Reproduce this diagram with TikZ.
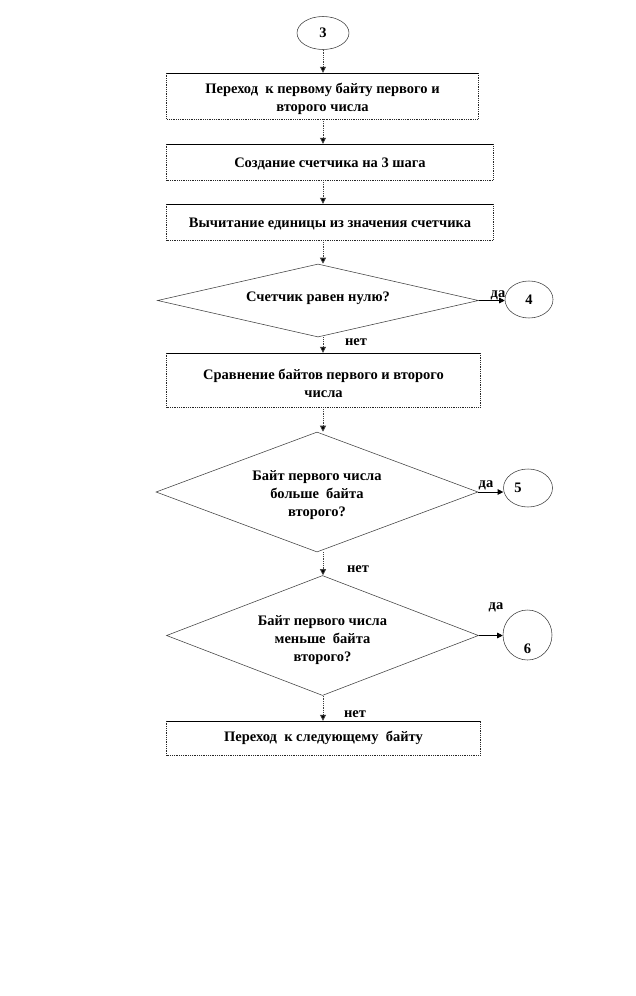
\documentclass[tikz,border=0pt]{standalone}
\usepackage{fontspec}
\setmainfont{Liberation Serif}
\usetikzlibrary{shapes.geometric,arrows.meta}
\newcommand\procedges[1]{%
  \draw[black, line width=0.6pt] (#1.north west) -- (#1.north east);
  \draw[black!85, densely dotted, line width=0.8pt] (#1.north west) -- (#1.south west) -- (#1.south east) -- (#1.north east);}
\begin{document}
\begin{tikzpicture}[x=1pt,y=-1pt,
  txt/.style={font=\fontsize{14.5}{18}\selectfont\bfseries, text=black, align=center, inner sep=0pt},
  proc/.style={rectangle, inner sep=0pt},
  decis/.style={draw=black!75, line width=0.55pt, diamond, inner sep=0pt},
  conn/.style={txt, draw=black!75, line width=0.55pt, ellipse, inner sep=0pt},
  flow/.style={draw=black!75, densely dotted, line width=0.8pt, -{Triangle[length=6pt,width=6pt,fill=black]}},
  flowh/.style={draw=black, line width=0.6pt, -{Triangle[length=5.5pt,width=5.5pt,fill=black]}}]
\useasboundingbox[fill=white] (0,0) rectangle (636,996);
\coordinate (ax) at (323,0);
% start connector
\node[conn, minimum width=52pt, minimum height=33pt] (c3) at (323,33) {3};
% boxes
\node[proc, minimum width=311pt, minimum height=46pt] (b1) at (322.5,96) {};
\procedges{b1}
\node[txt] (b1t) at ([yshift=-3pt]b1.center) {Переход\ \ к первому байту первого и\\второго числа};
\node[proc, minimum width=326pt, minimum height=36pt] (b2) at (330,162) {};
\procedges{b2}
\node[txt] (b2t) at ([yshift=-2pt]b2.center) {Создание счетчика на 3 шага};
\node[proc, minimum width=326pt, minimum height=36pt] (b3) at (330,222) {};
\procedges{b3}
\node[txt] (b3t) at ([yshift=-2pt]b3.center) {Вычитание единицы из значения счетчика};
% decision 1
\node[decis, minimum width=321pt, minimum height=73pt, aspect=4.4] (d1) at (318,300.5) {};
\node[txt] (d1t) at ([yshift=2pt]d1.center) {Счетчик равен нулю?};
\node[conn, minimum width=48pt, minimum height=37pt] (c4) at (529,299.5) {4};
% box 4
\node[proc, minimum width=313pt, minimum height=54pt] (b4) at (323.5,380) {};
\procedges{b4}
\node[txt] (b4t) at ([yshift=-3pt]b4.center) {Сравнение байтов первого и второго\\числа};
% decision 2
\node[decis, minimum width=322pt, minimum height=120pt, aspect=2.7] (d2) at (317,492) {};
\node[txt] (d2t) at ([yshift=-3pt]d2.center) {Байт первого числа\\больше\ \ байта\\второго?};
\node[conn, minimum width=49pt, minimum height=38pt] (c5) at (528,488) {};
\node[txt] (t5) at ([xshift=-10pt]c5.center) {5};
% decision 3
\node[decis, minimum width=312pt, minimum height=120pt, aspect=2.6] (d3) at (322.5,635.5) {};
\node[txt] (d3t) at ([yshift=-4.5pt]d3.center) {Байт первого числа\\меньше\ \ байта\\второго?};
\node[conn, minimum width=49pt, minimum height=50pt] (c6) at (527.5,635) {};
\node[txt] (t6) at ([yshift=-14pt]c6.center) {6};
% box 5
\node[proc, minimum width=313pt, minimum height=34pt] (b5) at (323.5,738) {};
\procedges{b5}
\node[txt] (b5t) at (b5.center) {Переход\ \ к следующему\ \ байту};
% vertical connectors
\draw[flow] (ax |- c3.south) -- (ax |- b1.north);
\draw[flow] (ax |- b1.south) -- (ax |- b2.north);
\draw[flow] (ax |- b2.south) -- (ax |- b3.north);
\draw[flow] (ax |- b3.south) -- (ax |- d1.north);
\draw[flow] (ax |- d1.south) -- (ax |- b4.north);
\draw[flow] (ax |- b4.south) -- (ax |- d2.north);
\draw[flow] (ax |- d2.south) -- (ax |- d3.north);
\draw[flow] (ax |- d3.south) -- (ax |- b5.north);
\node[txt] (n1) at (356,342) {нет};
\node[txt] (n2) at (358,569) {нет};
\node[txt] (n3) at (355,714) {нет};
% horizontal connectors
\draw[flowh] (d1.east) -- (d1.east -| c4.west);
\draw[flowh] (d2.east) -- (d2.east -| c5.west);
\draw[flowh] (d3.east) -- (d3.east -| c6.west);
\node[txt] (y1) at (498,295) {да};
\node[txt] (y2) at (486,485) {да};
\node[txt] (y3) at (496,607) {да};
\end{tikzpicture}
\end{document}
